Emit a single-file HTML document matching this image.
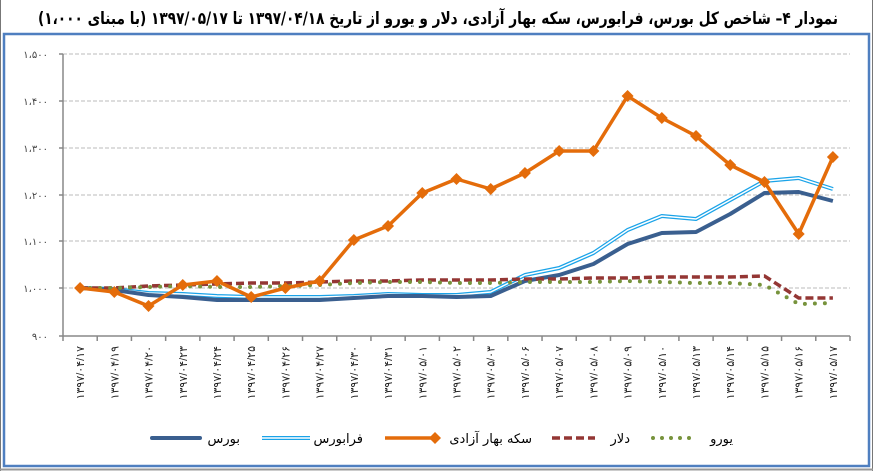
<!DOCTYPE html>
<html><head><meta charset="utf-8"><style>
body{margin:0;background:#fff;}
svg{display:block;font-family:"Liberation Sans","DejaVu Sans",sans-serif;}
</style></head><body>
<svg width="873" height="471" viewBox="0 0 873 471" xmlns="http://www.w3.org/2000/svg">
<rect x="0" y="0" width="873" height="471" fill="#fff"/>
<line x1="0.5" y1="0" x2="0.5" y2="471" stroke="#777" stroke-width="1"/>
<line x1="872.5" y1="0" x2="872.5" y2="471" stroke="#777" stroke-width="1"/>
<rect x="4" y="34" width="865" height="432" fill="#fff" stroke="#4f7fc0" stroke-width="2.5"/>
<line x1="0" y1="469.5" x2="873" y2="469.5" stroke="#999" stroke-width="2"/>
<text x="438" y="24" text-anchor="middle" font-size="17" font-weight="bold" direction="rtl" textLength="800" lengthAdjust="spacingAndGlyphs" font-family="'DejaVu Sans',sans-serif">نمودار ۴– شاخص کل بورس، فرابورس، سکه بهار آزادی، دلار و یورو از تاریخ ۱۳۹۷/۰۴/۱۸ تا ۱۳۹۷/۰۵/۱۷ (با مبنای ۱،۰۰۰)</text>
<g stroke="#bbb" stroke-dasharray="4,2" stroke-width="1">
<line x1="63" y1="54" x2="850" y2="54"/><line x1="63" y1="101" x2="850" y2="101"/>
<line x1="63" y1="148" x2="850" y2="148"/><line x1="63" y1="195" x2="850" y2="195"/>
<line x1="63" y1="241" x2="850" y2="241"/><line x1="63" y1="288" x2="850" y2="288"/>
</g>
<g stroke="#888" stroke-width="1.5" fill="none">
<line x1="63" y1="54" x2="63" y2="336"/><line x1="63" y1="336" x2="850" y2="336"/>
<path d="M59 54h4M59 101h4M59 148h4M59 195h4M59 241h4M59 288h4M59 336h4"/>
<path id="ticks" d=""/>
</g>
<g font-size="10" fill="#444" text-anchor="end">
<text x="48" y="58">۱،۵۰۰</text><text x="48" y="105">۱،۴۰۰</text><text x="48" y="152">۱،۳۰۰</text>
<text x="48" y="199">۱،۲۰۰</text><text x="48" y="245">۱،۱۰۰</text><text x="48" y="292">۱،۰۰۰</text><text x="48" y="340">۹۰۰</text>
</g>
<g id="xl" font-size="11" fill="#222"></g>
<g id="series"></g>
<g font-size="13" fill="#000" font-family="'DejaVu Sans',sans-serif">
<line x1="152" y1="438" x2="200" y2="438" stroke="#3a5f8f" stroke-width="4" stroke-linecap="round"/>
<text x="240" y="443" text-anchor="start" direction="rtl">بورس</text>
<line x1="262" y1="438" x2="310" y2="438" stroke="#1aa3e8" stroke-width="4"/>
<line x1="262" y1="438" x2="310" y2="438" stroke="#fff" stroke-width="1.5"/>
<text x="363" y="443" text-anchor="start" direction="rtl">فرابورس</text>
<line x1="385" y1="438" x2="435" y2="438" stroke="#e46c0a" stroke-width="3.5"/>
<path d="M435 432l6 6-6 6-6-6z" fill="#e46c0a"/>
<text x="532" y="443" text-anchor="start" direction="rtl">سکه بهار آزادی</text>
<line x1="552" y1="438" x2="595" y2="438" stroke="#943634" stroke-width="3.5" stroke-dasharray="8,4"/>
<text x="630" y="443" text-anchor="start" direction="rtl">دلار</text>
<line x1="653" y1="438" x2="697" y2="438" stroke="#77933c" stroke-width="4" stroke-dasharray="0,9" stroke-linecap="round"/>
<text x="733" y="443" text-anchor="start" direction="rtl">یورو</text>
</g>
</svg>
<script>
var ns="http://www.w3.org/2000/svg";
var labels=["۰۴/۱۷","۰۴/۱۹","۰۴/۲۰","۰۴/۲۳","۰۴/۲۴","۰۴/۲۵","۰۴/۲۶","۰۴/۲۷","۰۴/۳۰","۰۴/۳۱","۰۵/۰۱","۰۵/۰۲","۰۵/۰۳","۰۵/۰۶","۰۵/۰۷","۰۵/۰۸","۰۵/۰۹","۰۵/۱۰","۰۵/۱۳","۰۵/۱۴","۰۵/۱۵","۰۵/۱۶","۰۵/۱۷"];
var w=787/23;function X(i){return 63+w*(i+0.5);}
var t="";for(var i=0;i<=23;i++){var x=63+w*i;t+="M"+x+" 336v5";}
document.getElementById("ticks").setAttribute("d",t);
var xl=document.getElementById("xl");
labels.forEach(function(l,i){var e=document.createElementNS(ns,"text");var x=X(i)+4;
e.setAttribute("transform","translate("+x+",346) rotate(-90)");e.setAttribute("text-anchor","end");
e.setAttribute("direction","ltr");e.setAttribute("unicode-bidi","bidi-override");e.textContent="۱۳۹۷/"+l;xl.appendChild(e);});
var S=document.getElementById("series");
function line(ys,attrs){var d=ys.map(function(y,i){return(i?"L":"M")+X(i).toFixed(1)+" "+y;}).join("");
var p=document.createElementNS(ns,"path");p.setAttribute("d",d);p.setAttribute("fill","none");
for(var k in attrs)p.setAttribute(k,attrs[k]);S.appendChild(p);}
var coin=[288,292,306,285,281,297,288,281,240,226,193,179,189,173,151,151,96,118,136,165,182,234,157];
var bourse=[288,290,295,297,300,300,300,300,298,296,296,297,296,281,275,264,244,233,232,214,193,192,201];
var fara=[288,289,293,294,296,297,297,297,296,294,295,295,292,275,268,253,230,216,219,200,181,178,189];
var dollar=[288,288,286,285,284,283,283,282,281,281,280,280,280,279,279,278,278,277,277,277,276,298,298];
var euro=[288,288,287,286,287,287,286,285,283,282,282,283,283,282,282,282,281,282,283,283,285,304,303];
line(fara,{stroke:"#1aa3e8","stroke-width":4,"stroke-linejoin":"round"});
line(fara,{stroke:"#fff","stroke-width":1.5,"stroke-linejoin":"round"});
line(bourse,{stroke:"#3a5f8f","stroke-width":4,"stroke-linejoin":"round"});
line(dollar,{stroke:"#943634","stroke-width":3.5,"stroke-dasharray":"8,4"});
line(euro,{stroke:"#77933c","stroke-width":4,"stroke-dasharray":"0,10","stroke-linecap":"round"});
line(coin,{stroke:"#e46c0a","stroke-width":3.5,"stroke-linejoin":"round"});
coin.forEach(function(y,i){var p=document.createElementNS(ns,"path");var x=X(i);
p.setAttribute("d","M"+x+" "+(y-6)+"l6 6-6 6-6-6z");p.setAttribute("fill","#e46c0a");S.appendChild(p);});
</script>
</body></html>
